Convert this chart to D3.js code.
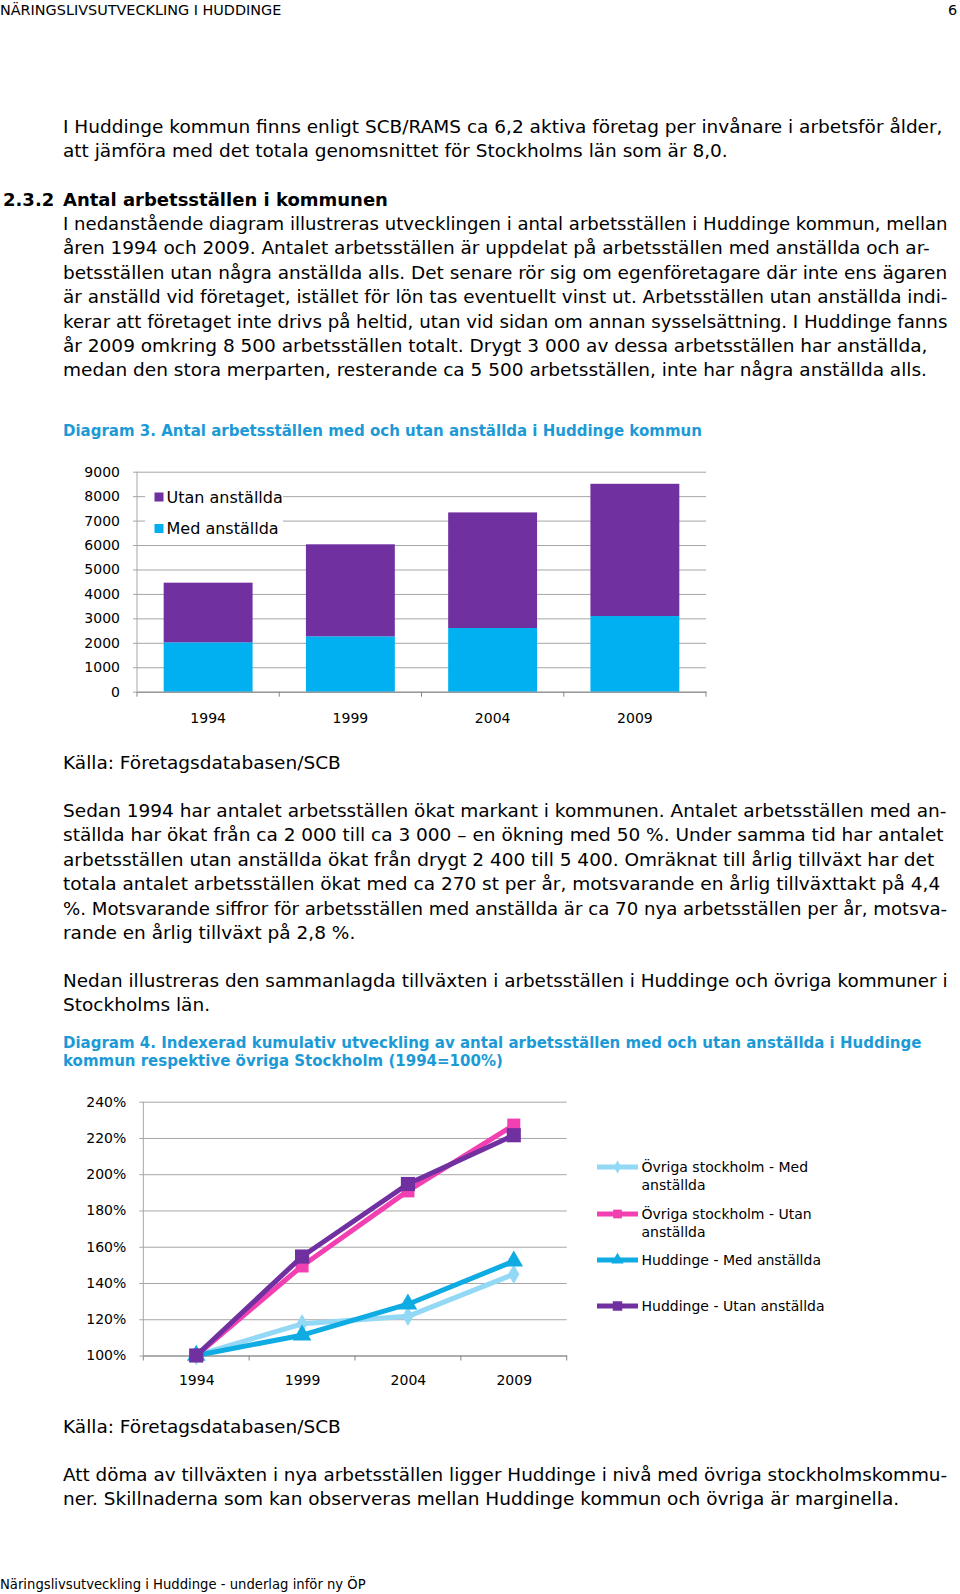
<!DOCTYPE html>
<html><head><meta charset="utf-8">
<script src="https://cdn.jsdelivr.net/npm/d3@7"></script>
<style>
html,body{margin:0;padding:0;background:#fff;}
svg{display:block;}
text{font-family:"DejaVu Sans",Verdana,sans-serif;fill:#000;}
</style></head>
<body>
<svg id="page" width="960" height="1594"></svg>
<script>
// ---------- Data: Diagram 3 ----------
const years = ["1994", "1999", "2004", "2009"];
const medAnstallda = [2020, 2265, 2605, 3095];
const utanAnstallda = [2440, 3765, 4730, 5410];
const barTicks = [0, 1000, 2000, 3000, 4000, 5000, 6000, 7000, 8000, 9000];
const barSeriesNames = ["Utan anställda", "Med anställda"];

// ---------- Data: Diagram 4 (index, 1994 = 100 %) ----------
const ovrigaMed = [100, 117.5, 121.6, 144.8];
const ovrigaUtan = [100, 149.4, 190.8, 227.1];
const huddingeMed = [100, 111.2, 128.3, 152.0];
const huddingeUtan = [100, 154.6, 194.6, 221.5];
const lineTicks = [100, 120, 140, 160, 180, 200, 220, 240];
const lineSeriesNames = [
  ["Övriga stockholm - Med", "anställda"],
  ["Övriga stockholm - Utan", "anställda"],
  ["Huddinge - Med anställda"],
  ["Huddinge - Utan anställda"]
];

// ---------- Page text ----------
const headerText = "NÄRINGSLIVSUTVECKLING I HUDDINGE";
const pageNumber = "6";
const para1 = [
  "I Huddinge kommun finns enligt SCB/RAMS ca 6,2 aktiva företag per invånare i arbetsför ålder,",
  "att jämföra med det totala genomsnittet för Stockholms län som är 8,0."
];
const headingNum = "2.3.2";
const headingText = "Antal arbetsställen i kommunen";
const para2 = [
  "I nedanstående diagram illustreras utvecklingen i antal arbetsställen i Huddinge kommun, mellan",
  "åren 1994 och 2009. Antalet arbetsställen är uppdelat på arbetsställen med anställda och ar-",
  "betsställen utan några anställda alls. Det senare rör sig om egenföretagare där inte ens ägaren",
  "är anställd vid företaget, istället för lön tas eventuellt vinst ut. Arbetsställen utan anställda indi-",
  "kerar att företaget inte drivs på heltid, utan vid sidan om annan sysselsättning. I Huddinge fanns",
  "år 2009 omkring 8 500 arbetsställen totalt. Drygt 3 000 av dessa arbetsställen har anställda,",
  "medan den stora merparten, resterande ca 5 500 arbetsställen, inte har några anställda alls."
];
const title3 = "Diagram 3. Antal arbetsställen med och utan anställda i Huddinge kommun";
const source = "Källa: Företagsdatabasen/SCB";
const para3 = [
  "Sedan 1994 har antalet arbetsställen ökat markant i kommunen. Antalet arbetsställen med an-",
  "ställda har ökat från ca 2 000 till ca 3 000 – en ökning med 50 %. Under samma tid har antalet",
  "arbetsställen utan anställda ökat från drygt 2 400 till 5 400. Omräknat till årlig tillväxt har det",
  "totala antalet arbetsställen ökat med ca 270 st per år, motsvarande en årlig tillväxttakt på 4,4",
  "%. Motsvarande siffror för arbetsställen med anställda är ca 70 nya arbetsställen per år, motsva-",
  "rande en årlig tillväxt på 2,8 %."
];
const para4 = [
  "Nedan illustreras den sammanlagda tillväxten i arbetsställen i Huddinge och övriga kommuner i",
  "Stockholms län."
];
const title4 = [
  "Diagram 4. Indexerad kumulativ utveckling av antal arbetsställen med och utan anställda i Huddinge",
  "kommun respektive övriga Stockholm (1994=100%)"
];
const para5 = [
  "Att döma av tillväxten i nya arbetsställen ligger Huddinge i nivå med övriga stockholmskommu-",
  "ner. Skillnaderna som kan observeras mellan Huddinge kommun och övriga är marginella."
];
const footerText = "Näringslivsutveckling i Huddinge - underlag inför ny ÖP";

const svg = d3.select("#page");
const blue = "#1c9ad6";
const maxRight = 948;

function lines(arr, x, y0, dy, size, opts = {}) {
  arr.forEach((t, i) => {
    const el = svg.append("text").attr("x", x).attr("y", y0 + i * dy)
      .attr("font-size", size)
      .attr("font-weight", opts.bold ? "bold" : null)
      .style("fill", opts.color || "#000")
      .text(t);
    const w = el.node().getComputedTextLength();
    if (x + w > maxRight) {
      el.attr("font-size", size * (maxRight - x) / w);
    }
  });
}

// header/footer
svg.append("text").attr("x", 0).attr("y", 15).attr("font-size", 14.4).text(headerText);
svg.append("text").attr("x", 948).attr("y", 15).attr("font-size", 14.4).text(pageNumber);

const bodySize = 18.5;
lines(para1, 63, 132.5, 24.4, bodySize);
svg.append("text").attr("x", 3).attr("y", 205.5).attr("font-size", 18).attr("font-weight", "bold").text(headingNum);
svg.append("text").attr("x", 63).attr("y", 205.5).attr("font-size", 18).attr("font-weight", "bold").text(headingText);
lines(para2, 63, 230, 24.4, bodySize);
lines([title3], 63, 435.5, 0, 15, {bold: true, color: blue});

// ---------- Diagram 3: stacked bars ----------
{
  const x0 = 137, x1 = 706, yTop = 471.7, yBot = 691.7;
  const x = d3.scaleBand().domain(years).range([x0, x1]).paddingInner(0.375).paddingOuter(0.1875);
  const y = d3.scaleLinear().domain([0, 9000]).range([yBot, yTop]);
  const g = svg.append("g");

  const yAxis = d3.axisLeft(y).tickValues(barTicks).tickSize(-(x1 - x0)).tickPadding(17).tickFormat(d3.format("d"));
  const ga = g.append("g").attr("transform", `translate(${x0},0)`).call(yAxis);
  ga.select(".domain").remove();
  ga.selectAll(".tick line").attr("stroke", "#a6a6a6").attr("x1", -4);
  ga.selectAll(".tick text").attr("font-size", 14).attr("font-family", "DejaVu Sans").style("fill", "#000");
  g.append("line").attr("x1", x0).attr("x2", x0).attr("y1", yTop).attr("y2", yBot).attr("stroke", "#a6a6a6");

  // legend background (occludes gridlines)
  g.append("rect").attr("x", 145).attr("y", 483).attr("width", 138).attr("height", 60).attr("fill", "#fff");

  const stack = years.map((yr, i) => ({yr, med: medAnstallda[i], utan: utanAnstallda[i]}));
  g.selectAll("rect.med").data(stack).join("rect").attr("class", "med")
    .attr("x", d => x(d.yr)).attr("width", x.bandwidth())
    .attr("y", d => y(d.med)).attr("height", d => y(0) - y(d.med)).attr("fill", "#00b0f0");
  g.selectAll("rect.utan").data(stack).join("rect").attr("class", "utan")
    .attr("x", d => x(d.yr)).attr("width", x.bandwidth())
    .attr("y", d => y(d.med + d.utan)).attr("height", d => y(d.med) - y(d.med + d.utan)).attr("fill", "#7030a0");

  const xa = g.append("g").attr("transform", `translate(0,${yBot})`)
    .call(d3.axisBottom(x).tickSize(0).tickPadding(21));
  xa.select(".domain").attr("stroke", "#868686");
  xa.selectAll(".tick text").attr("font-size", 14).attr("font-family", "DejaVu Sans").style("fill", "#000");
  const bounds = years.map(yr => x(yr) - x.step() * x.paddingInner() / 2).concat([x1]);
  bounds[0] = x0;
  g.selectAll("line.xt").data(bounds).join("line").attr("class", "xt")
    .attr("x1", d => d).attr("x2", d => d).attr("y1", yBot).attr("y2", yBot + 5).attr("stroke", "#868686");

  const legColors = ["#7030a0", "#00b0f0"];
  barSeriesNames.forEach((n, i) => {
    const cy = 497 + i * 31.5;
    g.append("rect").attr("x", 154.5).attr("y", cy - 4.5).attr("width", 9).attr("height", 9).attr("fill", legColors[i]);
    g.append("text").attr("x", 166.5).attr("y", cy + 5.8).attr("font-size", 16).text(n);
  });
}

lines([source], 63, 768.5, 0, 18.5);
lines(para3, 63, 817, 24.4, bodySize);
lines(para4, 63, 987, 24.4, bodySize);
lines(title4, 63, 1047.8, 18.3, 15, {bold: true, color: blue});

// ---------- Diagram 4: lines ----------
{
  const x0 = 143.3, x1 = 566.7, yTop = 1101.7, yBot = 1355.5;
  const x = d3.scalePoint().domain(years).range([x0, x1]).padding(0.5);
  const y = d3.scaleLinear().domain([100, 240]).range([yBot, yTop]);
  const g = svg.append("g");
  const yAxis = d3.axisLeft(y).tickValues(lineTicks).tickSize(-(x1 - x0)).tickPadding(17).tickFormat(d => d + "%");
  const ga = g.append("g").attr("transform", `translate(${x0},0)`).call(yAxis);
  ga.select(".domain").remove();
  ga.selectAll(".tick line").attr("stroke", "#a6a6a6").attr("x1", -4);
  ga.selectAll(".tick text").attr("font-size", 14).attr("font-family", "DejaVu Sans").style("fill", "#000");
  g.append("line").attr("x1", x0).attr("x2", x0).attr("y1", yTop).attr("y2", yBot).attr("stroke", "#a6a6a6");

  const xa = g.append("g").attr("transform", `translate(0,${yBot})`)
    .call(d3.axisBottom(x).tickSize(0).tickPadding(20));
  xa.select(".domain").attr("stroke", "#868686");
  xa.selectAll(".tick text").attr("font-size", 14).attr("font-family", "DejaVu Sans").style("fill", "#000");
  const step = x.step();
  const bounds = d3.range(5).map(i => x0 + i * step);
  g.selectAll("line.xt").data(bounds).join("line").attr("class", "xt")
    .attr("x1", d => d).attr("x2", d => d).attr("y1", yBot).attr("y2", yBot + 5).attr("stroke", "#868686");

  const series = [
    {vals: ovrigaMed, color: "#93d8f4", sym: d3.symbolDiamond, size: 110},
    {vals: ovrigaUtan, color: "#f23fb1", sym: d3.symbolSquare, size: 170},
    {vals: huddingeMed, color: "#0fabe3", sym: d3.symbolTriangle, size: 150},
    {vals: huddingeUtan, color: "#7030a0", sym: d3.symbolSquare, size: 200}
  ];
  const line = d3.line().x((d, i) => x(years[i])).y(d => y(d));
  series.forEach(s => {
    g.append("path").datum(s.vals).attr("d", line).attr("fill", "none")
      .attr("stroke", s.color).attr("stroke-width", 5).attr("stroke-linejoin", "round");
    g.selectAll(null).data(s.vals).join("path")
      .attr("d", d3.symbol().type(s.sym).size(s.size))
      .attr("transform", (d, i) => `translate(${x(years[i])},${y(d)})`)
      .attr("fill", s.color);
  });

  const legY = [1167, 1214, 1260, 1306];
  series.forEach((s, i) => {
    const ly = legY[i];
    g.append("line").attr("x1", 597).attr("x2", 638).attr("y1", ly).attr("y2", ly)
      .attr("stroke", s.color).attr("stroke-width", 5);
    g.append("path").attr("d", d3.symbol().type(s.sym).size(s.size * 0.45))
      .attr("transform", `translate(617.5,${ly})`).attr("fill", s.color);
    lineSeriesNames[i].forEach((t, j) => {
      g.append("text").attr("x", 641.5).attr("y", ly + 5 + j * 17.5).attr("font-size", 14).text(t);
    });
  });
}

lines([source], 63, 1432.5, 0, 18.5);
lines(para5, 63, 1481, 24.4, bodySize);
svg.append("text").attr("x", 0).attr("y", 1589).attr("font-size", 13.2).text(footerText);
</script>
</body></html>
